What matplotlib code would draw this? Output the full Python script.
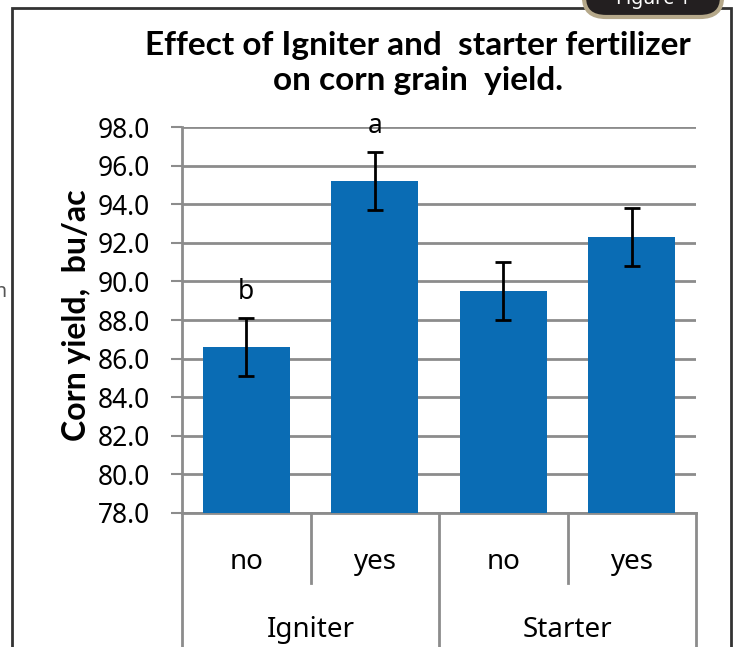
import matplotlib.pyplot as plt
from matplotlib.patches import Rectangle, FancyBboxPatch
from matplotlib.transforms import blended_transform_factory

# data
levels = ['no', 'yes', 'no', 'yes']
groups = ['Igniter', 'Starter']
yields = [86.6, 95.2, 89.5, 92.3]
errors = [1.5, 1.5, 1.5, 1.5]
letters = ['b', 'a', '', '']
yticks = [78, 80, 82, 84, 86, 88, 90, 92, 94, 96, 98]

bar_color = '#0a6cb4'
grid_color = '#8c8c8c'
tick_font = 'Noto Sans'
title_font = 'Lato'

fig = plt.figure(figsize=(7.35, 6.47), dpi=100)
ax = fig.add_axes([0.2476, 0.2076, 0.6994, 0.5956])

x = list(range(len(yields)))
ax.bar(x, yields, width=0.68, color=bar_color, zorder=3)
ax.errorbar(x, yields, yerr=errors, fmt='none', ecolor='black',
            elinewidth=2, capsize=6, capthick=2, zorder=4)

# significance letters above the error bars
for xi, y, e, lab in zip(x, yields, errors, letters):
    if lab:
        ax.text(xi, y + e + 1.35, lab, ha='center', va='center',
                fontsize=19, family=tick_font)

ax.set_ylim(78, 98)
ax.set_xlim(-0.5, 3.5)
ax.set_yticks(yticks)
ax.set_yticklabels([f'{t:.1f}' for t in yticks], family=tick_font, fontsize=19)
ax.set_xticks([])
ax.yaxis.grid(True, color=grid_color, linewidth=2, zorder=0)
ax.set_axisbelow(True)
ax.tick_params(axis='y', length=8, width=1.5, color=grid_color, pad=15)

for side in ['top', 'right']:
    ax.spines[side].set_visible(False)
for side in ['left', 'bottom']:
    ax.spines[side].set_color(grid_color)
    ax.spines[side].set_linewidth(2)

ax.set_ylabel('Corn yield,  bu/ac', family=title_font, fontweight='bold',
              fontsize=23, va='center')
ax.yaxis.set_label_coords(-0.206, 0.513)

# multi-level category axis
trans = blended_transform_factory(ax.transData, ax.transAxes)
for xs in [-0.5, 1.5, 3.5]:
    ax.plot([xs, xs], [0, -0.36], transform=trans, color=grid_color,
            lw=2, clip_on=False)
for xs in [0.5, 2.5]:
    ax.plot([xs, xs], [0, -0.182], transform=trans, color=grid_color,
            lw=2, clip_on=False)
for xi, lab in zip(x, levels):
    ax.text(xi, -0.128, lab, transform=trans, ha='center', va='center',
            fontsize=20, family=tick_font)
for gi, g in enumerate(groups):
    ax.text(gi * 2 + 0.5, -0.305, g, transform=trans, ha='center',
            va='center', fontsize=20, family=tick_font)

fig.text(0.569, 0.9026, 'Effect of Igniter and  starter fertilizer\non corn grain  yield.',
         ha='center', va='center', family=title_font, fontweight='bold',
         fontsize=24, linespacing=1.27)

# outer frame and tab
fig.patches.append(Rectangle((12 / 735, -0.1), (731 - 12) / 735, 1.1 - 8 / 647,
                             transform=fig.transFigure, fill=False,
                             edgecolor='#333333', lw=2))
fig.patches.append(FancyBboxPatch((584 / 735, 1 - 17 / 647), 138 / 735, 40 / 647,
                                  boxstyle='round,pad=0,rounding_size=0.03',
                                  transform=fig.transFigure, facecolor='#231f20',
                                  edgecolor='#b5a88a', lw=3))
fig.text(653 / 735, 1 - 4 / 647, 'Figure 1', ha='center', va='baseline',
         color='white', fontweight='bold', fontsize=14, family=tick_font)
fig.text(0, 1 - 292 / 647, 'n', ha='center', va='center', fontsize=14,
         color='#555555', family=tick_font)

fig.savefig('out.png', dpi=100)
